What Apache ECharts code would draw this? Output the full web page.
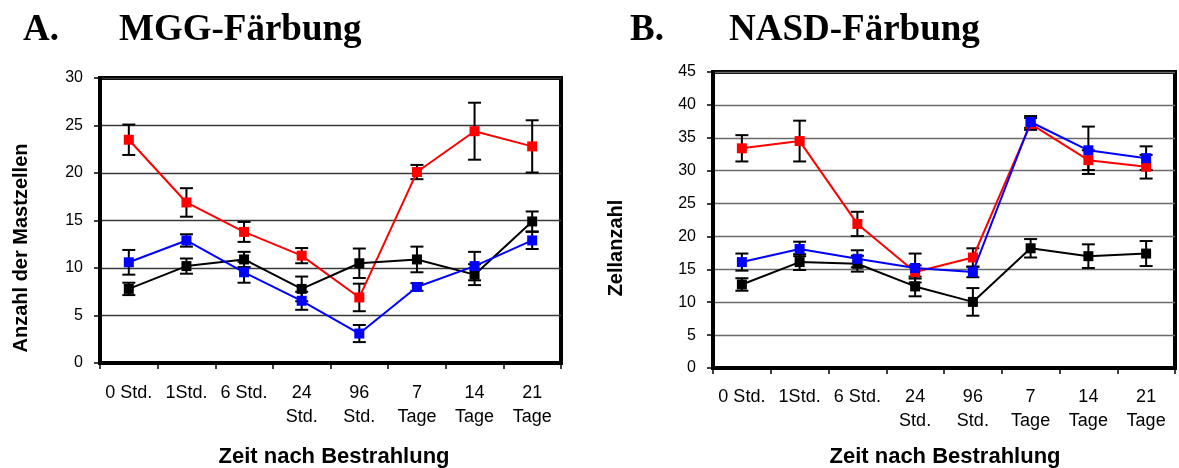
<!DOCTYPE html>
<html>
<head>
<meta charset="utf-8">
<script src="https://cdn.jsdelivr.net/npm/echarts@6/dist/echarts.min.js"></script>
<style>
  html, body { margin: 0; padding: 0; background: #fff; }
  #chart { width: 1179px; height: 468px; }
</style>
</head>
<body>
<div id="chart"></div>
<script>
// Time points after irradiation (shared by both panels)
const categories = ['0 Std.', '1Std.', '6 Std.', '24\nStd.', '96\nStd.', '7\nTage', '14\nTage', '21\nTage'];

// Panel A: MGG staining – mast cell counts (mean and ± error)
const mggBlack    = [7.8, 10.2, 10.9, 7.8, 10.5, 10.9, 9.3, 14.9];
const mggBlackErr = [0.65, 0.8, 0.8, 1.3, 1.55, 1.35, 1.1, 1.05];
const mggBlue     = [10.6, 12.9, 9.55, 6.55, 3.1, 8.0, 10.2, 12.9];
const mggBlueErr  = [1.3, 0.65, 1.1, 0.95, 0.9, 0.4, 1.5, 0.9];
const mggRed      = [23.5, 16.9, 13.8, 11.3, 6.9, 20.1, 24.4, 22.8];
const mggRedErr   = [1.6, 1.5, 1.05, 0.8, 1.45, 0.75, 3.0, 2.75];

// Panel B: NASD staining – cell counts (mean and ± error)
const nasdBlack    = [12.7, 16.1, 15.85, 12.4, 10.05, 18.2, 17.0, 17.4];
const nasdBlackErr = [0.95, 1.2, 1.2, 1.5, 2.1, 1.4, 1.8, 1.9];
const nasdBlue     = [16.1, 18.1, 16.6, 15.2, 14.6, 37.4, 33.1, 31.9];
const nasdBlueErr  = [1.3, 1.1, 1.3, 2.2, 0.8, 0.9, 3.6, 1.8];
const nasdRed      = [33.4, 34.5, 21.9, 14.6, 16.8, 37.1, 31.6, 30.6];
const nasdRedErr   = [2.0, 3.1, 1.85, 1.0, 1.4, 0.9, 1.5, 1.8];

// Axis ranges
const mggAxis  = { min: 0, max: 30, interval: 5 };
const nasdAxis = { min: 0, max: 45, interval: 5 };

const SANS = '"Liberation Sans", Arial, sans-serif';
const SERIF = '"Liberation Serif", "Times New Roman", serif';

function errData(mean, err) {
  return mean.map((m, i) => [i, m - err[i], m + err[i]]);
}

// Vertical error bar with caps
function renderErr(params, api) {
  const x = api.value(0);
  const lo = api.coord([x, api.value(1)]);
  const hi = api.coord([x, api.value(2)]);
  const w = 6.5;
  const style = { stroke: '#000', lineWidth: 2 };
  return {
    type: 'group',
    children: [
      { type: 'line', shape: { x1: lo[0], y1: lo[1], x2: hi[0], y2: hi[1] }, style },
      { type: 'line', shape: { x1: hi[0] - w, y1: hi[1], x2: hi[0] + w, y2: hi[1] }, style },
      { type: 'line', shape: { x1: lo[0] - w, y1: lo[1], x2: lo[0] + w, y2: lo[1] }, style }
    ]
  };
}

function lineSeries(idx, data, color, z) {
  return {
    type: 'line', xAxisIndex: idx, yAxisIndex: idx, data,
    symbol: 'rect', symbolSize: 10, showSymbol: true,
    lineStyle: { color, width: 2 },
    itemStyle: { color, borderWidth: 0 },
    z, animation: false
  };
}

function errSeries(idx, mean, err, z) {
  return {
    type: 'custom', xAxisIndex: idx, yAxisIndex: idx,
    data: errData(mean, err), renderItem: renderErr,
    encode: { x: 0, y: [1, 2] }, z, animation: false
  };
}

function xAxisDef(idx, margin) {
  return {
    type: 'category', gridIndex: idx, data: categories, boundaryGap: true,
    axisLine: { lineStyle: { color: '#000', width: 4 } },
    axisTick: { show: true, inside: false, length: 6, lineStyle: { color: '#000', width: 1.5 } },
    axisLabel: { color: '#000', fontFamily: SANS, fontSize: 18, lineHeight: 24, margin, interval: 0 },
    splitLine: { show: false }
  };
}

function yAxisDef(idx, range, gridColor) {
  return {
    type: 'value', gridIndex: idx, min: range.min, max: range.max, interval: range.interval,
    axisLine: { show: true, lineStyle: { color: '#000', width: 4 } },
    axisTick: { show: true, inside: false, length: 6, lineStyle: { color: '#000', width: 1.5 } },
    axisLabel: { color: '#000', fontFamily: SANS, fontSize: 16, margin: 17 },
    splitLine: { show: true, lineStyle: { color: gridColor, width: 1.3 } }
  };
}

const chart = echarts.init(document.getElementById('chart'), null, { renderer: 'canvas' });

chart.setOption({
  backgroundColor: '#fff',
  animation: false,
  grid: [
    { left: 100, top: 78, width: 461, height: 285, show: true, borderColor: '#000', borderWidth: 4, containLabel: false },
    { left: 713, top: 72, width: 462, height: 296, show: true, borderColor: '#000', borderWidth: 4, containLabel: false }
  ],
  xAxis: [xAxisDef(0, 18), xAxisDef(1, 17)],
  yAxis: [yAxisDef(0, mggAxis, '#3a3a3a'), yAxisDef(1, nasdAxis, '#6a6a6a')],
  series: [
    errSeries(0, mggBlack, mggBlackErr, 3),
    errSeries(0, mggBlue, mggBlueErr, 3),
    errSeries(0, mggRed, mggRedErr, 3),
    lineSeries(0, mggRed, '#ff0000', 4),
    lineSeries(0, mggBlack, '#000000', 5),
    lineSeries(0, mggBlue, '#0000ff', 6),

    errSeries(1, nasdBlack, nasdBlackErr, 3),
    errSeries(1, nasdBlue, nasdBlueErr, 3),
    errSeries(1, nasdRed, nasdRedErr, 3),
    lineSeries(1, nasdBlack, '#000000', 4),
    lineSeries(1, nasdRed, '#ff0000', 5),
    lineSeries(1, nasdBlue, '#0000ff', 6)
  ],
  graphic: [
    { type: 'text', left: 23, top: 12, style: { text: 'A.', font: 'bold 37px ' + SERIF, fill: '#000' } },
    { type: 'text', left: 119, top: 12, style: { text: 'MGG-Färbung', font: 'bold 37px ' + SERIF, fill: '#000' } },
    { type: 'text', left: 630, top: 12, style: { text: 'B.', font: 'bold 37px ' + SERIF, fill: '#000' } },
    { type: 'text', left: 729, top: 12, style: { text: 'NASD-Färbung', font: 'bold 37px ' + SERIF, fill: '#000' } },
    {
      type: 'text', x: 21, y: 248, rotation: Math.PI / 2,
      style: { text: 'Anzahl der Mastzellen', font: 'bold 20px ' + SANS, fill: '#000', align: 'center', verticalAlign: 'middle' }
    },
    {
      type: 'text', x: 616, y: 248, rotation: Math.PI / 2,
      style: { text: 'Zellanzahl', font: 'bold 20px ' + SANS, fill: '#000', align: 'center', verticalAlign: 'middle' }
    },
    {
      type: 'text', x: 334, y: 457,
      style: { text: 'Zeit nach Bestrahlung', font: 'bold 22px ' + SANS, fill: '#000', align: 'center', verticalAlign: 'middle' }
    },
    {
      type: 'text', x: 945, y: 457,
      style: { text: 'Zeit nach Bestrahlung', font: 'bold 22px ' + SANS, fill: '#000', align: 'center', verticalAlign: 'middle' }
    }
  ]
});
</script>
</body>
</html>
